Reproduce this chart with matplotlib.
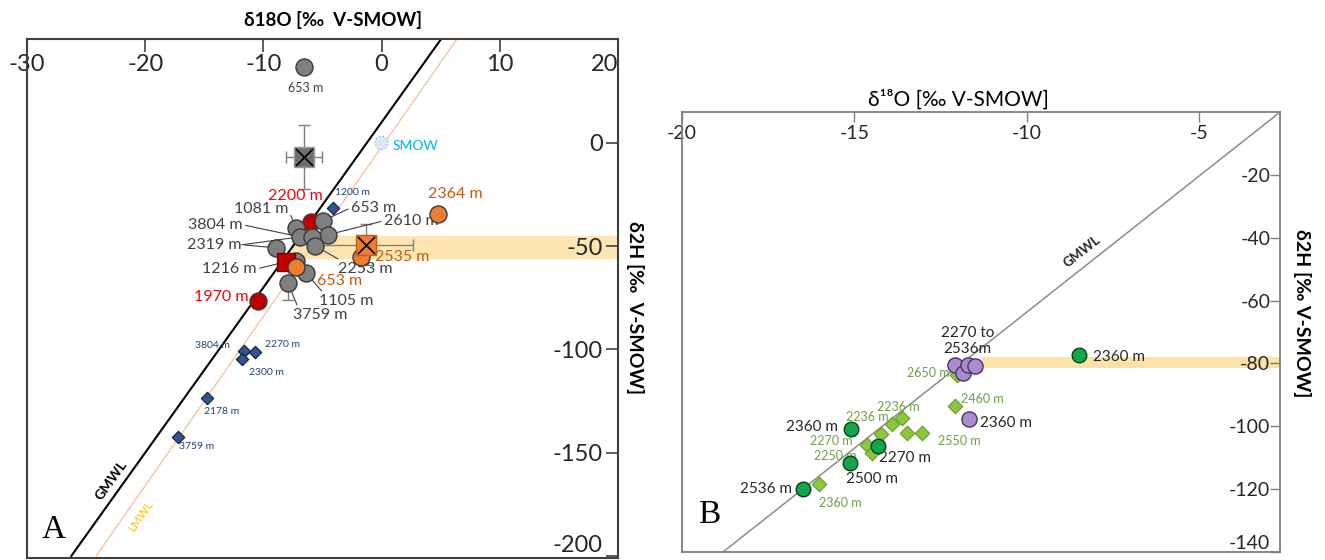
import math
import numpy as np
import matplotlib
matplotlib.use('Agg')
import matplotlib.pyplot as plt

plt.rcParams['font.family'] = ['Lato', 'DejaVu Sans']
plt.rcParams['axes.unicode_minus'] = False

# ---------------- panel A data (d18O, d2H) ----------------
grey_x = [-6.58, -4.97, -4.55, -7.25, -6.91, -5.90, -5.65, -8.94, -7.25, -6.41, -7.93]
grey_y = [36.8, -37.7, -44.5, -41.1, -45.5, -45.5, -49.8, -50.8, -57.1, -62.9, -67.7]
grey_lab = ['653 m', '653 m', '2610 m', '1081 m', '3804 m', '', '2253 m', '2319 m', '', '1105 m', '3759 m']

red_x = [-5.99, -10.46]
red_y = [-38.2, -76.4]
red_lab = ['2200 m', '1970 m']

redsq_x = [-8.09]
redsq_y = [-57.6]
redsq_lab = ['1216 m']

orange_x = [4.81, -7.25, -1.77]
orange_y = [-34.3, -60.0, -55.2]
orange_lab = ['2364 m', '653 m', '2535 m']

blue_x = [-4.13, -11.64, -10.71, -11.80, -14.76, -17.20]
blue_y = [-31.4, -100.6, -101.1, -104.5, -123.4, -142.2]
blue_lab = ['1200 m', '3804 m', '2270 m', '2300 m', '2178 m', '3759 m']

# mean values with error bars (grey / orange squares)
mean_x = [-6.58, -1.35]
mean_y = [-6.8, -49.3]
mean_xerr = [1.5, 4.0]
mean_yerr = [15.5, 10.0]

smow_x = [0.0]
smow_y = [0.0]

gmwl_slope, gmwl_int = 8.0, 10.0
lmwl_slope, lmwl_int = 8.2, -2.0
band_a_x = [-7.6, 20.0]
band_a_y = [-56.0, -45.0]

# ---------------- panel B data ----------------
purple_x = [-12.09, -11.86, -11.71, -11.51, -11.68]
purple_y = [-80.6, -83.1, -80.6, -80.9, -97.8]

green_x = [-8.49, -15.10, -14.32, -15.13, -16.49]
green_y = [-77.4, -101.0, -106.4, -111.8, -120.0]
green_lab = ['2360 m', '2360 m', '2270 m', '2500 m', '2536 m']

diam_x = [-12.03, -12.09, -13.62, -13.91, -14.23, -13.48, -13.04, -14.64, -14.49, -16.03]
diam_y = [-83.8, -93.6, -97.4, -99.4, -102.5, -102.2, -102.2, -106.0, -108.6, -118.5]
diam_lab = ['2650 m', '2460 m', '2236 m', '2236 m', '', '', '2550 m', '2270 m', '2250 m', '2360 m']

line_b_slope, line_b_int = 8.66, 22.9
band_b_x = [-11.3, -2.65]
band_b_y = [-81.5, -78.0]

# label placement (offset in pixels, alignment), leader lines
grey_off = [(2, -21, 'center'), (28, 13, 'left'), (56, 14, 'left'), (-8, 19, 'right'),
            (-57, 12, 'right'), None, (50, -23, 'center'), (-34, 3, 'right'), None,
            (40, -28, 'center'), (32, -32, 'center')]
grey_lead = [False, True, True, True, True, False, True, True, False, True, True]
red_off = [(-15, 26, 'center'), (-37, 4, 'center')]
orange_off = [(17, 20, 'center'), (44, -14, 'center'), (42, 0, 'center')]
blue_off = [(20, 15, 'center'), (-32, 5, 'center'), (27, 7, 'center'), (24, -14, 'center'),
            (14, -14, 'center'), (18, -10, 'center')]
green_off = [(14, -2, 'left'), (-13, 2, 'right'), (27, -12, 'center'), (22, -16, 'center'),
             (-11, 0, 'right')]
diam_off = [(-7, 2, 'right'), (28, 7, 'center'), (-4, 11, 'center'), (-25, 7, 'center'), None,
            None, (37, -8, 'center'), (-35, 4, 'center'), (-37, -3, 'center'), (21, -19, 'center')]


def put_label(ax, x, y, txt, off, color, size, leader=False):
    dx, dy, ha = off
    arrow = None
    if leader:
        rel = {'left': (0, 0.5), 'right': (1, 0.5), 'center': (0.1, 1)}[ha]
        arrow = dict(arrowstyle='-', color='#404040', lw=0.8, shrinkA=0, shrinkB=0, relpos=rel)
    ax.annotate(txt, (x, y), xytext=(dx, dy), textcoords='offset pixels', ha=ha, va='center',
                color=color, fontsize=size, arrowprops=arrow, zorder=2)


def line_angle(ax, slope):
    p0 = ax.transData.transform((0, 0))
    p1 = ax.transData.transform((1, slope))
    return math.degrees(math.atan2(p1[1] - p0[1], p1[0] - p0[0]))


fig = plt.figure(figsize=(13.25, 5.6), dpi=100)

# ======================= panel A =======================
axA = fig.add_axes([27 / 1325, 2 / 560, 591 / 1325, 519 / 560])
axA.set_xlim(-30, 20)
axA.set_ylim(-201, 50.3)

axA.fill_between(band_a_x, band_a_y[0], band_a_y[1], color='#fde6b3', lw=0, zorder=0)

ys = np.array([-200, 50])
axA.plot((ys - gmwl_int) / gmwl_slope, ys, color='black', lw=1.5, zorder=1)
axA.plot((ys - lmwl_int) / lmwl_slope, ys, color='#f8c4a4', lw=1.0, zorder=1)

axA.errorbar(mean_x, mean_y, xerr=mean_xerr, yerr=mean_yerr, fmt='none', ecolor='#7f7f7f',
             elinewidth=1, capsize=4, zorder=1)
axA.errorbar([grey_x[10]], [grey_y[10]], yerr=[8.5], fmt='none', ecolor='#7f7f7f',
             elinewidth=1, capsize=4, zorder=1)

axA.scatter(smow_x, smow_y, s=90, facecolor='#dbe9f6', edgecolor='#9dc3e6', linestyles=':',
            lw=1, zorder=3)
put_label(axA, smow_x[0], smow_y[0], 'SMOW', (11, -3, 'left'), '#00b0f0', 10)

axA.scatter(red_x, red_y, s=150, facecolor='#c00000', edgecolor='#3a3a3a', lw=1, zorder=3)
axA.scatter(grey_x, grey_y, s=150, facecolor='#7f7f7f', edgecolor='#3a3a3a', lw=1, zorder=4)
axA.scatter(redsq_x, redsq_y, s=150, marker='s', facecolor='#c00000', edgecolor='#7f0000', lw=1,
            zorder=5)
axA.scatter(orange_x, orange_y, s=150, facecolor='#ed7d31', edgecolor='#3a3a3a', lw=1, zorder=5)
axA.scatter(blue_x, blue_y, s=40, marker='D', facecolor='#2f5597', edgecolor='#1a1a1a', lw=0.8,
            zorder=5)
axA.scatter(mean_x[:1], mean_y[:1], s=190, marker='s', facecolor='#6f6f6f', edgecolor='#9a9a9a',
            lw=1, zorder=5)
axA.scatter(mean_x[1:], mean_y[1:], s=190, marker='s', facecolor='#ed7d31', edgecolor='#c55a11',
            lw=1, zorder=5)
axA.scatter(mean_x, mean_y, s=150, marker='x', color='black', lw=1.2, zorder=6)

for i, t in enumerate(grey_lab):
    if t:
        size = 9 if i == 0 else 11.5
        put_label(axA, grey_x[i], grey_y[i], t, grey_off[i], '#404040', size, grey_lead[i])
# 2319 m has a second leader
dxp, dyp = grey_off[7][0], grey_off[7][1]
px_x = 591 / 50.0
px_y = 519 / 251.3
axA.plot([grey_x[7] + dxp / px_x, grey_x[4]], [grey_y[7] + dyp / px_y, grey_y[4]],
         color='#404040', lw=0.8, zorder=2)
for i, t in enumerate(red_lab):
    put_label(axA, red_x[i], red_y[i], t, red_off[i], '#ff0000', 11.5)
put_label(axA, redsq_x[0], redsq_y[0], redsq_lab[0], (-29, -7, 'right'), '#404040', 11.5, True)
for i, t in enumerate(orange_lab):
    put_label(axA, orange_x[i], orange_y[i], t, orange_off[i], '#c55a11', 11.5)
for i, t in enumerate(blue_lab):
    put_label(axA, blue_x[i], blue_y[i], t, blue_off[i], '#1f3f7a', 7.5)

# water line labels
yg = -166.9
axA.annotate('GMWL', ((yg - gmwl_int) / gmwl_slope, yg), xytext=(-9, 7), textcoords='offset pixels',
             ha='center', va='center', fontsize=10, fontweight='bold',
             rotation=line_angle(axA, gmwl_slope))
yl = -176.6
axA.annotate('LMWL', ((yl - lmwl_int) / lmwl_slope, yl), xytext=(11, -8), textcoords='offset pixels',
             ha='center', va='center', fontsize=8.5, color='#ffc000',
             rotation=line_angle(axA, lmwl_slope))

axA.set_xticks([-30, -20, -10, 0, 10, 20])
axA.set_yticks([0, -50, -100, -150, -200])
axA.tick_params(axis='x', top=True, bottom=False, labeltop=True, labelbottom=False,
                direction='in', length=9, width=1.2, pad=-11, labelsize=17,
                color='#404040', labelcolor='#262626')
axA.tick_params(axis='y', right=True, left=False, labelright=True, labelleft=False,
                direction='in', length=9, width=1.2, pad=-11, labelsize=17,
                color='#404040', labelcolor='#262626')
for tk in axA.xaxis.get_major_ticks():
    tk.label2.set_va('top')
axA.xaxis.get_major_ticks()[-1].label2.set_ha('right')
for tk in axA.yaxis.get_major_ticks():
    tk.label2.set_ha('right')
axA.yaxis.get_major_ticks()[-1].label2.set_va('bottom')
for sp in axA.spines.values():
    sp.set_color('#404040')
    sp.set_linewidth(1.5)

fig.text(0.251, 0.964, 'δ18O [‰  V-SMOW]', ha='center', va='center', fontsize=13.5,
         fontweight='bold')
fig.text(0.479, 0.45, 'δ2H [‰  V-SMOW]', ha='center', va='center', fontsize=14,
         fontweight='bold', rotation=270)
axA.text(0.046, 0.055, 'A', transform=axA.transAxes, ha='center', va='center', fontsize=24,
         family='Liberation Serif')

# ======================= panel B =======================
axB = fig.add_axes([682 / 1325, 8 / 560, 598 / 1325, 440 / 560])
axB.set_xlim(-20, -2.65)
axB.set_ylim(-140, 0)

axB.fill_between(band_b_x, band_b_y[0], band_b_y[1], color='#fbe3a6', lw=0, zorder=0)
yb = np.array([-140, 0])
axB.plot((yb - line_b_int) / line_b_slope, yb, color='#8c8c8c', lw=1.1, zorder=1)
yt = -47.8
axB.annotate('GMWL', ((yt - line_b_int) / line_b_slope, yt), xytext=(-8.5, 10.5),
             textcoords='offset pixels', ha='center', va='center', fontsize=9.5,
             fontweight='bold', color='#262626', rotation=line_angle(axB, line_b_slope))

axB.scatter(diam_x, diam_y, s=55, marker='D', facecolor='#8cc63f', edgecolor='#6a9a30', lw=0.8,
            zorder=3)
axB.scatter(purple_x, purple_y, s=120, facecolor='#a98bd0', edgecolor='#4a3566', lw=1, zorder=4)
axB.scatter(green_x, green_y, s=110, facecolor='#11a64b', edgecolor='#0c3d1c', lw=1, zorder=4)

put_label(axB, purple_x[0], purple_y[0], '2270 to\n2536m', (13, 24, 'center'), '#262626', 11)
put_label(axB, purple_x[4], purple_y[4], '2360 m', (11, -4, 'left'), '#262626', 11)
for i, t in enumerate(green_lab):
    put_label(axB, green_x[i], green_y[i], t, green_off[i], '#262626', 11)
for i, t in enumerate(diam_lab):
    if t:
        put_label(axB, diam_x[i], diam_y[i], t, diam_off[i], '#6e9e45', 9)

axB.set_xticks([-20, -15, -10, -5])
axB.set_yticks([-20, -40, -60, -80, -100, -120, -140])
axB.tick_params(axis='x', top=True, bottom=False, labeltop=True, labelbottom=False,
                direction='in', length=7, width=1, pad=-9, labelsize=14,
                color='#7f7f7f', labelcolor='#262626')
axB.tick_params(axis='y', right=True, left=False, labelright=True, labelleft=False,
                direction='in', length=7, width=1, pad=-7, labelsize=14,
                color='#7f7f7f', labelcolor='#262626')
for tk in axB.xaxis.get_major_ticks():
    tk.label2.set_va('top')
for tk in axB.yaxis.get_major_ticks():
    tk.label2.set_ha('right')
axB.yaxis.get_major_ticks()[-1].label2.set_va('bottom')
for sp in axB.spines.values():
    sp.set_color('#7f7f7f')
    sp.set_linewidth(1.3)

fig.text(0.723, 0.822, 'δ¹⁸O [‰ V-SMOW]', ha='center', va='center', fontsize=15)
fig.text(0.983, 0.441, 'δ2H [‰ V-SMOW]', ha='center', va='center', fontsize=14,
         fontweight='bold', rotation=270)
axB.text(0.045, 0.085, 'B', transform=axB.transAxes, ha='center', va='center', fontsize=24,
         family='Liberation Serif')

fig.savefig('out.png', dpi=100)
